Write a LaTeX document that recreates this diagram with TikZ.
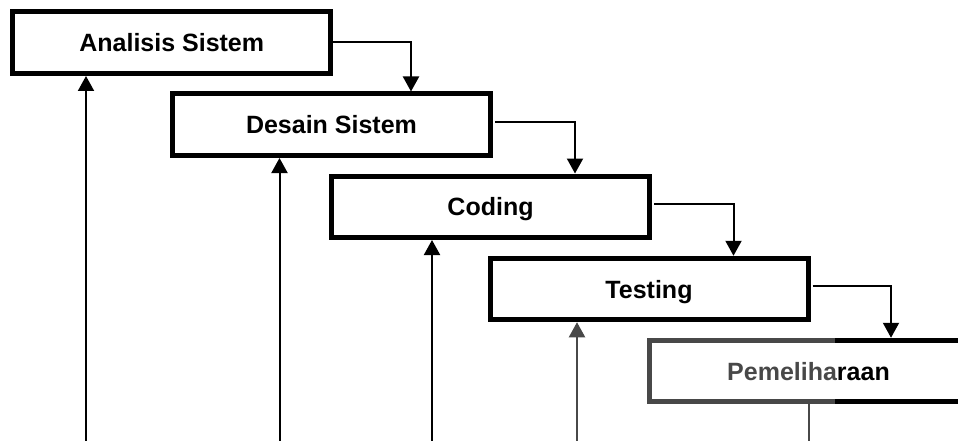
\documentclass[tikz,border=0pt]{standalone}
\usepackage{fontspec}
\setmainfont{Liberation Sans}
\usetikzlibrary{arrows.meta}
\definecolor{fadegray}{HTML}{484848}
\begin{document}
\begin{tikzpicture}[x=1pt,y=-1pt,
  stage/.style={draw, line width=5pt, minimum width=318pt, minimum height=61.5pt,
    inner sep=0pt, font=\bfseries\fontsize{25}{30}\selectfont,
    text height=18pt, text depth=0pt},
  flow/.style={line width=2pt, -{Triangle[width=16pt,length=15pt]}},
  plain/.style={line width=2pt}]
  \clip (0,0) rectangle (958,441);

  % waterfall stages
  \node[stage] (s1) at (171.75,42.75) {Analisis Sistem};
  \node[stage] (s2) at (331.5,124.75) {Desain Sistem};
  \node[stage] (s3) at (490.5,206.75) {Coding};
  \node[stage] (s4) at (649,289) {Testing};
  \node[stage, draw=fadegray] (s5) at (808.5,371)
    {{\color{fadegray}Pemeliha}raan};
  % darker right-hand part of the last frame
  \draw[line width=5pt] (835,340.25) -- (970,340.25)
                        (835,401.75) -- (970,401.75);

  % forward flow between stages
  \draw[flow] ([yshift=1pt]s1.east) -| ([xshift=241pt]s2.north west);
  \draw[flow] ([xshift=2pt,yshift=3pt]s2.east) -| ([xshift=246pt]s3.north west);
  \draw[flow] ([xshift=2pt,yshift=3pt]s3.east) -| ([xshift=246pt]s4.north west);
  \draw[flow] ([xshift=2pt,yshift=3pt]s4.east) -| ([xshift=244pt]s5.north west);

  % feedback lines rising from the bottom edge
  \coordinate (u1) at (86,441);
  \coordinate (u2) at (279.5,441);
  \coordinate (u3) at (432,441);
  \coordinate (u4) at (577,441);
  \coordinate (d5) at (809,441);
  \draw[flow] (u1) -- (u1 |- s1.south);
  \draw[flow] (u2) -- (u2 |- s2.south);
  \draw[flow] (u3) -- (u3 |- s3.south);
  \draw[flow, fadegray] (u4) -- (u4 |- s4.south);
  \draw[plain, fadegray] (d5 |- s5.south) -- (d5);
\end{tikzpicture}
\end{document}
